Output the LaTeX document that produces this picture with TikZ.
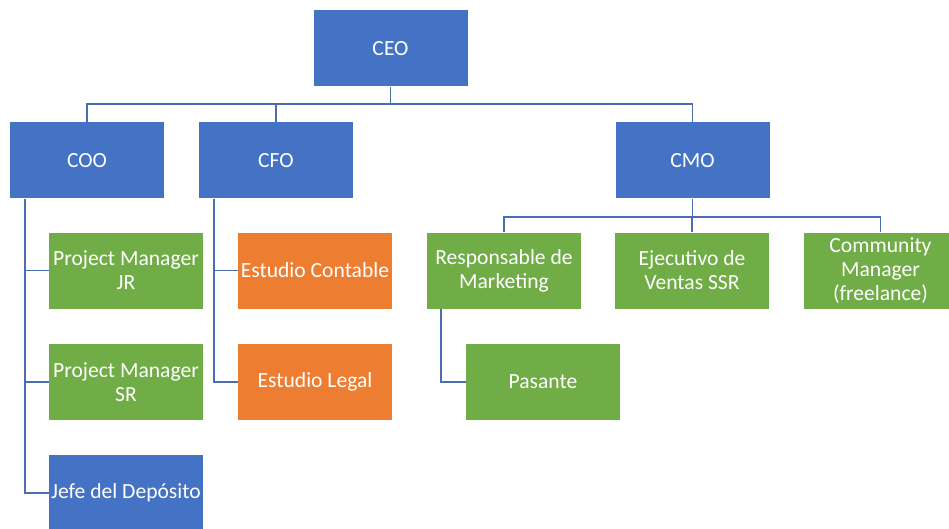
\documentclass[tikz,border=0pt]{standalone}
\usepackage{fontspec}
\setmainfont{Carlito}
\definecolor{oblue}{HTML}{4472C4}
\definecolor{ogreen}{HTML}{70AD47}
\definecolor{oorange}{HTML}{ED7D31}
\definecolor{lineblue}{HTML}{4A6DB3}
\begin{document}
\begin{tikzpicture}[x=1pt,y=-1pt,
  box/.style={rectangle, minimum width=154pt, minimum height=76pt, inner sep=0pt,
    text=white, align=center, font=\fontsize{21.6}{24}\selectfont},
  bluebox/.style={box, fill=oblue},
  greenbox/.style={box, fill=ogreen},
  orangebox/.style={box, fill=oorange},
  conn/.style={draw=lineblue, line width=1.6pt}]
\useasboundingbox (0,0) rectangle (949,529);
\clip (0,0) rectangle (949,529);
\fill[white] (0,0) rectangle (949,529);

\node[bluebox] (ceo) at (390.5,48.5) {CEO};
\node[bluebox] (coo) at (87,160.5) {COO};
\node[bluebox] (cfo) at (276,160.5) {CFO};
\node[bluebox] (cmo) at (692.5,160.5) {CMO};

\node[greenbox] (pmjr) at (126,270.5) {Project Manager\\JR};
\node[greenbox] (pmsr) at (126,382) {Project Manager\\SR};
\node[bluebox] (jefe) at (126,493) {Jefe del Depósito};

\node[orangebox] (ec) at (315,270.5) {Estudio Contable};
\node[orangebox] (el) at (315,382) {Estudio Legal};

\node[greenbox] (rm) at (504,270.5) {Responsable de\\Marketing};
\node[greenbox] (ev) at (692,270.5) {Ejecutivo de\\Ventas SSR};
\node[greenbox] (cm) at (880.5,270.5) {Community\\Manager\\(freelance)};
\node[greenbox] (pas) at (543,382) {Pasante};

\coordinate (top) at (0,104);
\coordinate (mid) at (0,217);

% CEO to level 2
\draw[conn] (ceo.south) -- (ceo.south |- top);
\draw[conn] (coo.north) -- (coo.north |- top) -- (cmo.north |- top) -- (cmo.north);
\draw[conn] (cfo.north) -- (cfo.north |- top);

% COO children
\draw[conn] ([xshift=15pt]coo.south west) |- (pmjr.west);
\draw[conn] ([xshift=15pt]coo.south west) |- (pmsr.west);
\draw[conn] ([xshift=15pt]coo.south west) |- (jefe.west);

% CFO children
\draw[conn] ([xshift=15pt]cfo.south west) |- (ec.west);
\draw[conn] ([xshift=15pt]cfo.south west) |- (el.west);

% CMO children
\draw[conn] (cmo.south) -- (cmo.south |- mid);
\draw[conn] (rm.north) -- (rm.north |- mid) -- (cm.north |- mid) -- (cm.north);
\draw[conn] (ev.north) -- (ev.north |- mid);

% RM child
\draw[conn] ([xshift=14pt]rm.south west) |- (pas.west);
\end{tikzpicture}
\end{document}
